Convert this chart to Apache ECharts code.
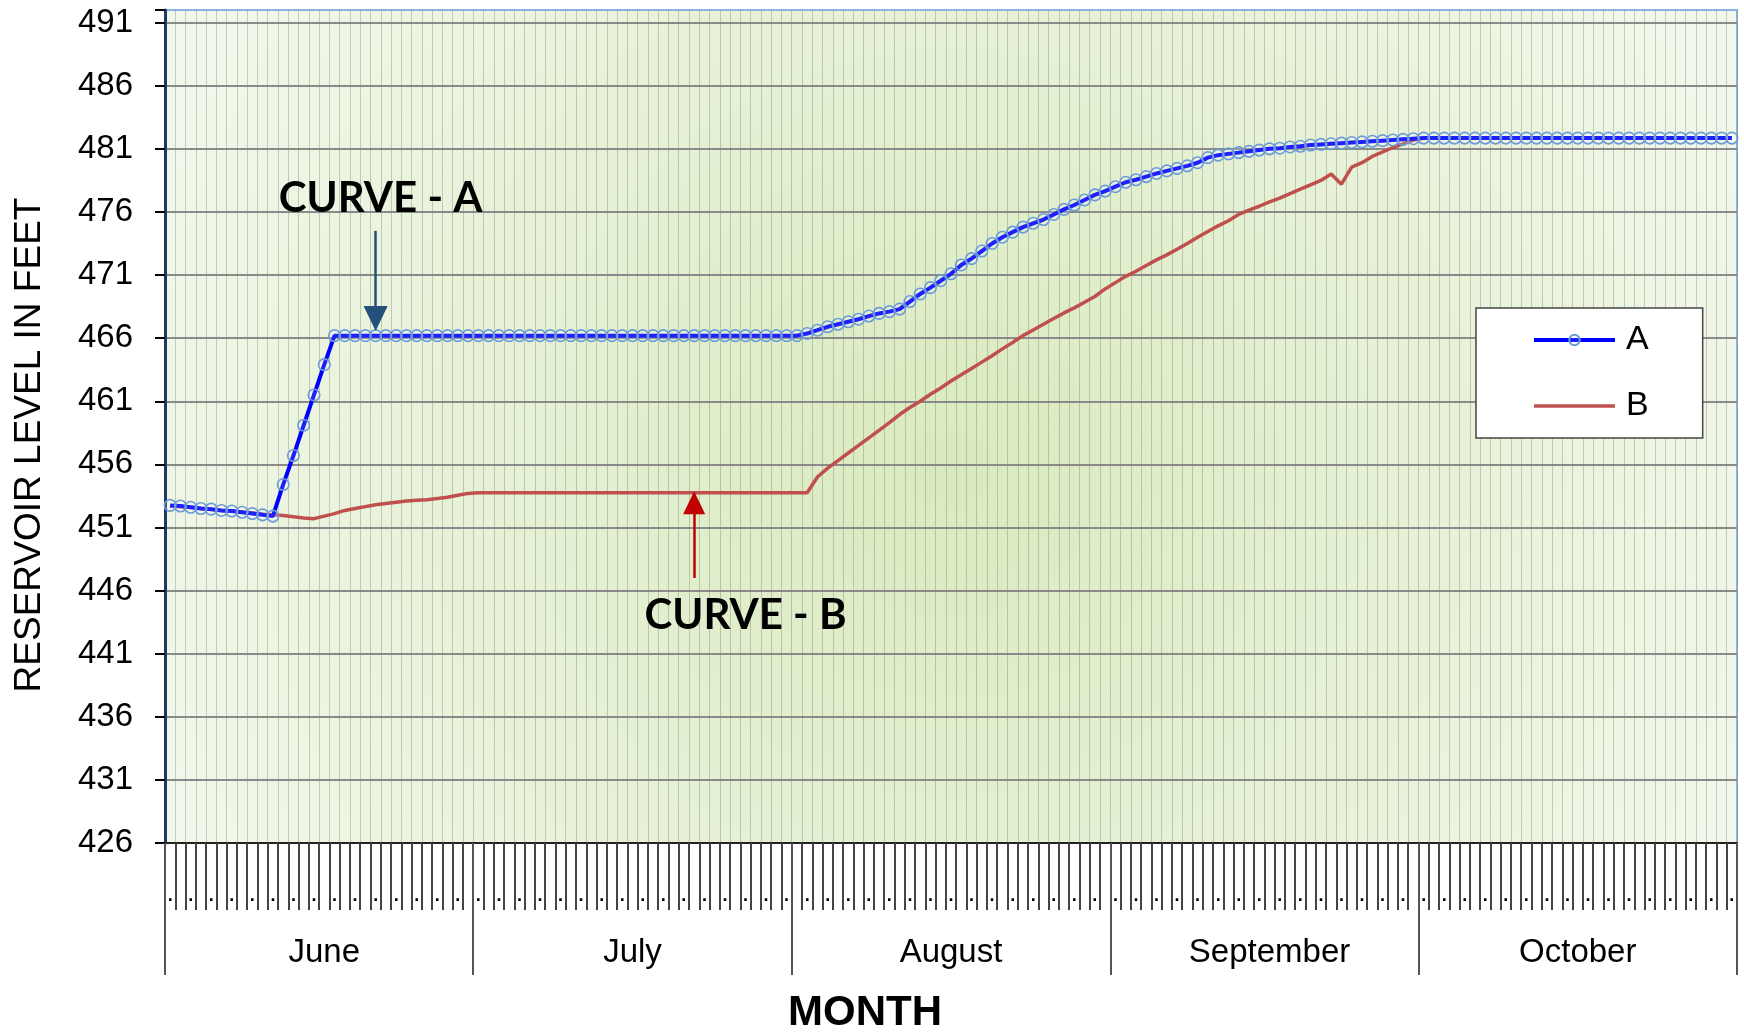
<!DOCTYPE html>
<html>
<head>
<meta charset="utf-8">
<title>Reservoir level</title>
<script src="https://cdn.jsdelivr.net/npm/echarts@6.0.0/dist/echarts.min.js"></script>
<style>
  html, body { margin: 0; padding: 0; background: #fff; }
  #chart { width: 1744px; height: 1033px; }
</style>
</head>
<body>
<div id="chart"></div>
<script>
// months on the lower axis and their lengths in days
const months = ['June', 'July', 'August', 'September', 'October'];
const monthDays = [30, 31, 31, 30, 31];

// reservoir level (feet), one value per day, June 1 .. October 31
const curveA = [
  452.75, 452.7, 452.6, 452.5, 452.45, 452.35, 452.3, 452.2, 452.1, 452.0,
  451.9, 454.4, 456.7, 459.1, 461.5, 463.9, 466.2, 466.2, 466.2, 466.2,
  466.2, 466.2, 466.2, 466.2, 466.2, 466.2, 466.2, 466.2, 466.2, 466.2,
  466.2, 466.2, 466.2, 466.2, 466.2, 466.2, 466.2, 466.2, 466.2, 466.2,
  466.2, 466.2, 466.2, 466.2, 466.2, 466.2, 466.2, 466.2, 466.2, 466.2,
  466.2, 466.2, 466.2, 466.2, 466.2, 466.2, 466.2, 466.2, 466.2, 466.2,
  466.2, 466.2, 466.37, 466.63, 466.9, 467.1, 467.3, 467.5, 467.75, 467.96,
  468.1, 468.3, 468.9, 469.5, 470.0, 470.55, 471.1, 471.8, 472.3, 472.9,
  473.5, 474.0, 474.4, 474.8, 475.1, 475.4, 475.8, 476.2, 476.55, 476.95,
  477.35, 477.65, 478.0, 478.35, 478.55, 478.8, 479.05, 479.25, 479.45, 479.65,
  479.9, 480.3, 480.5, 480.6, 480.7, 480.8, 480.9, 481.0, 481.05, 481.15,
  481.2, 481.3, 481.35, 481.4, 481.45, 481.5, 481.55, 481.6, 481.65, 481.7,
  481.75, 481.8, 481.85, 481.85, 481.85, 481.85, 481.85, 481.85, 481.85, 481.85,
  481.85, 481.85, 481.85, 481.85, 481.85, 481.85, 481.85, 481.85, 481.85, 481.85,
  481.85, 481.85, 481.85, 481.85, 481.85, 481.85, 481.85, 481.85, 481.85, 481.85,
  481.85, 481.85, 481.85
];
const curveB = [
  452.7, 452.65, 452.6, 452.5, 452.45, 452.35, 452.3, 452.2, 452.15, 452.05,
  452.0, 451.95, 451.85, 451.75, 451.7, 451.9, 452.1, 452.35, 452.5, 452.65,
  452.8, 452.9, 453.0, 453.1, 453.15, 453.2, 453.3, 453.4, 453.55, 453.7,
  453.75, 453.75, 453.75, 453.75, 453.75, 453.75, 453.75, 453.75, 453.75, 453.75,
  453.75, 453.75, 453.75, 453.75, 453.75, 453.75, 453.75, 453.75, 453.75, 453.75,
  453.75, 453.75, 453.75, 453.75, 453.75, 453.75, 453.75, 453.75, 453.75, 453.75,
  453.75, 453.75, 453.75, 455.0, 455.7, 456.3, 456.9, 457.5, 458.1, 458.7,
  459.3, 459.95, 460.5, 461.0, 461.55, 462.05, 462.6, 463.1, 463.6, 464.1,
  464.6, 465.15, 465.65, 466.2, 466.65, 467.1, 467.55, 468.0, 468.4, 468.85,
  469.3, 469.9, 470.4, 470.9, 471.3, 471.75, 472.2, 472.6, 473.05, 473.5,
  474.0, 474.45, 474.9, 475.3, 475.8, 476.15, 476.45, 476.8, 477.1, 477.45,
  477.8, 478.15, 478.5, 479.0, 478.2, 479.55, 479.9, 480.4, 480.75, 481.1,
  481.4, 481.7, 481.85, 481.85, 481.85, 481.85, 481.85, 481.85, 481.85, 481.85,
  481.85, 481.85, 481.85, 481.85, 481.85, 481.85, 481.85, 481.85, 481.85, 481.85,
  481.85, 481.85, 481.85, 481.85, 481.85, 481.85, 481.85, 481.85, 481.85, 481.85,
  481.85, 481.85, 481.85
];

// y axis range and step
const yMin = 426;
const yMax = 492;
const yStep = 5;

// day categories, month start indexes and mid-month label positions
const days = [];
const monthStart = [];
const monthMid = {};
months.forEach(function (m, k) {
  monthStart.push(days.length);
  monthMid[days.length + 15] = m;
  for (let d = 1; d <= monthDays[k]; d++) days.push(m.slice(0, 3) + ' ' + d);
});

const font = '"Liberation Sans", Arial, sans-serif';
const noteFont = 'Lato, "Open Sans", sans-serif';
const chart = echarts.init(document.getElementById('chart'));

const option = {
  animation: false,
  backgroundColor: '#fff',
  grid: {
    left: 165, right: 7, top: 10, bottom: 190,
    show: true,
    borderColor: '#8db3e2',
    borderWidth: 2,
    backgroundColor: new echarts.graphic.RadialGradient(0.5, 0.55, 1.0, [
      { offset: 0, color: '#d9eabf' },
      { offset: 1, color: '#f1f7ea' }
    ])
  },
  legend: {
    left: 1476, top: 308,
    orient: 'vertical',
    backgroundColor: '#fff',
    borderColor: '#444',
    borderWidth: 1.5,
    padding: [14, 54, 14, 56],
    itemWidth: 81,
    itemHeight: 13,
    itemGap: 30,
    textStyle: { fontFamily: font, fontSize: 34, color: '#000', lineHeight: 36, padding: [0, 0, 0, 6] },
    data: [
      { name: 'A', lineStyle: { width: 4 } },
      { name: 'B', itemStyle: { opacity: 0 }, lineStyle: { width: 3.5 } }
    ]
  },
  xAxis: [
    {
      type: 'category',
      data: days,
      position: 'bottom',
      axisLine: { lineStyle: { color: '#222', width: 2 } },
      axisTick: { show: true, interval: 0, length: 67, lineStyle: { color: '#444', width: 2 } },
      axisLabel: { interval: 1, margin: 44, fontSize: 18, fontWeight: 'bold', color: '#000', formatter: function () { return '.'; } },
      splitLine: { show: true, interval: 0, lineStyle: { color: 'rgba(120,135,100,0.38)', width: 1 } }
    },
    {
      type: 'category',
      data: days,
      position: 'bottom',
      axisLine: { show: false },
      axisTick: {
        show: true, length: 132,
        interval: function (i) { return monthStart.indexOf(i) >= 0; },
        lineStyle: { color: '#555', width: 2 }
      },
      axisLabel: {
        margin: 93, fontFamily: font, fontSize: 33, color: '#000',
        interval: function (i) { return monthMid[i] !== undefined; },
        formatter: function (v, i) { return monthMid[i] || ''; }
      },
      splitLine: { show: false }
    }
  ],
  yAxis: {
    type: 'value',
    min: yMin, max: yMax, interval: yStep,
    axisLine: { show: true, lineStyle: { color: '#1f3a60', width: 3 } },
    axisTick: { show: true, length: 10, lineStyle: { color: '#000', width: 2 } },
    axisLabel: {
      margin: 32, fontFamily: font, fontSize: 33, color: '#000',
      formatter: function (v) { return v > 491 ? '' : String(v); }
    },
    splitLine: { show: true, showMaxLine: false, lineStyle: { color: '#8a8a8a', width: 2 } }
  },
  series: [
    {
      name: 'A',
      type: 'line',
      data: curveA,
      symbol: 'circle',
      symbolSize: 11.5,
      showAllSymbol: true,
      lineStyle: { color: '#0000ff', width: 4 },
      itemStyle: { color: 'rgba(255,255,255,0.12)', borderColor: '#6b9bd6', borderWidth: 1.6 },
      z: 3,
      markLine: {
        silent: true,
        symbol: ['none', 'none'],
        label: { show: false },
        lineStyle: { color: '#24507c', width: 2.5, type: 'solid' },
        data: [[{ coord: [days[20], 474.5] }, { coord: [days[20], 467.6] }]]
      },
      markPoint: {
        silent: true,
        data: [
          {
            coord: [days[20], 477.1],
            symbol: 'rect', symbolSize: 1,
            itemStyle: { color: 'rgba(0,0,0,0)', borderWidth: 0 },
            label: {
              show: true, position: 'inside', offset: [5, 0],
              fontFamily: noteFont, fontWeight: 'bold', fontSize: 42, color: '#000',
              formatter: 'CURVE - A'
            }
          },
          {
            coord: [days[20], 467.55],
            symbol: 'triangle', symbolSize: [24, 25], symbolRotate: 180,
            itemStyle: { color: '#24507c', borderWidth: 0 },
            label: { show: false }
          }
        ]
      }
    },
    {
      name: 'B',
      type: 'line',
      data: curveB,
      symbol: 'none',
      lineStyle: { color: '#c0504d', width: 3.5 },
      itemStyle: { color: '#c0504d' },
      z: 2,
      markLine: {
        silent: true,
        symbol: ['none', 'none'],
        label: { show: false },
        lineStyle: { color: '#c00000', width: 2.5, type: 'solid' },
        data: [[{ coord: [days[51], 447.0] }, { coord: [days[51], 452.9] }]]
      },
      markPoint: {
        silent: true,
        data: [
          {
            coord: [days[56], 444.0],
            symbol: 'rect', symbolSize: 1,
            itemStyle: { color: 'rgba(0,0,0,0)' },
            label: {
              show: true, position: 'inside',
              fontFamily: noteFont, fontWeight: 'bold', fontSize: 42, color: '#000',
              formatter: 'CURVE - B'
            }
          },
          {
            coord: [days[51], 452.95],
            symbol: 'triangle', symbolSize: [22, 23],
            itemStyle: { color: '#c00000' },
            label: { show: false }
          }
        ]
      }
    }
  ],
  graphic: [
    {
      type: 'text',
      x: 30, y: 445,
      rotation: Math.PI / 2,
      style: {
        text: 'RESERVOIR LEVEL IN FEET', fontFamily: font, fontSize: 37, fill: '#000',
        align: 'center', verticalAlign: 'middle'
      }
    },
    {
      type: 'text',
      left: 868 - 80, top: 992,
      style: { text: 'MONTH', fontFamily: font, fontWeight: 'bold', fontSize: 42, fill: '#000' }
    }
  ]
};

chart.setOption(option);
</script>
</body>
</html>
